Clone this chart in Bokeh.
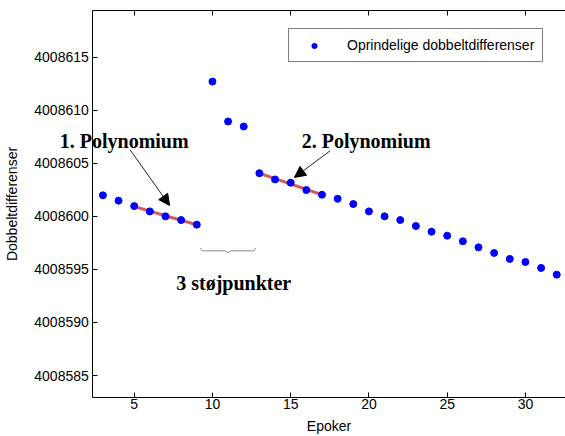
import numpy as np
from bokeh.plotting import figure
from bokeh.models import (Range1d, FixedTicker, LinearAxis, Label, Arrow, NormalHead,
                          Legend, LegendItem, BasicTickFormatter, ColumnDataSource)
from bokeh.embed import file_html
from bokeh.resources import INLINE

# Double differences per epoch
epochs = list(range(3, 33))
double_diffs = [
    4008601.98, 4008601.48, 4008600.97, 4008600.47, 4008600.00, 4008599.65, 4008599.22,
    4008612.70, 4008608.94, 4008608.47,
    4008604.07, 4008603.48, 4008603.17, 4008602.48, 4008602.04, 4008601.66, 4008601.16,
    4008600.47, 4008600.00, 4008599.65, 4008599.09, 4008598.56, 4008598.18, 4008597.65,
    4008597.08, 4008596.55, 4008595.99, 4008595.70, 4008595.14, 4008594.51,
]

# Epoch groups: two fitted segments and the noisy points between them
fit1_epochs = [5, 6, 7, 8, 9]
fit2_epochs = [13, 14, 15, 16, 17]
noise_epochs = [10, 11, 12]

x_ticks = [5, 10, 15, 20, 25, 30]
y_ticks = [4008585, 4008590, 4008595, 4008600, 4008605, 4008610, 4008615]

legend_label = "Oprindelige dobbeltdifferenser"
x_label = "Epoker"
y_label = "Dobbeltdifferenser"

SANS = "Liberation Sans"
SERIF = "Liberation Serif"

# Canvas size, axes box (canvas pixels) and the data limits of that box.
# The frame spans the whole canvas so annotations may reach outside the axes box;
# the axes are pinned to the box edges with fixed_location.
W, H = 565, 436
BOX_L, BOX_T, BOX_R, BOX_B = 92.3, 10.3, 565.0, 396.7
XLIM = (2.355, 32.56)
YLIM = (4008582.96, 4008619.37)

kx = (XLIM[1] - XLIM[0]) / (BOX_R - BOX_L)
ky = (YLIM[1] - YLIM[0]) / (BOX_B - BOX_T)
x_range = Range1d(XLIM[0] - BOX_L * kx, XLIM[1] + (W - BOX_R) * kx)
y_range = Range1d(YLIM[0] - (H - BOX_B) * ky, YLIM[1] + BOX_T * ky)

lookup = dict(zip(epochs, double_diffs))


def fitted_line(ep, deg=1):
    x = np.array(ep, dtype=float)
    y = np.array([lookup[e] for e in ep]) - 4008600.0
    coef = np.polyfit(x, y, deg)
    return x, np.polyval(coef, x) + 4008600.0


p = figure(width=W, height=H, x_range=x_range, y_range=y_range,
           output_backend="svg", toolbar_location=None,
           min_border=0, min_border_left=0, min_border_right=0,
           min_border_top=0, min_border_bottom=0,
           background_fill_color="white", border_fill_color="white",
           outline_line_color=None)
p.grid.visible = False


def style_axis(ax):
    ax.major_tick_in = 5
    ax.major_tick_out = 0
    ax.minor_tick_line_color = None
    ax.axis_line_color = "black"
    ax.major_tick_line_color = "black"
    ax.major_label_text_font = SANS
    ax.major_label_text_font_size = "14px"
    ax.major_label_text_color = "black"
    ax.axis_label_text_font = SANS
    ax.axis_label_text_font_size = "14px"
    ax.axis_label_text_font_style = "normal"
    ax.axis_label_text_color = "black"


xa, ya = p.xaxis[0], p.yaxis[0]
style_axis(xa)
style_axis(ya)

xa.ticker = FixedTicker(ticks=x_ticks)
xa.fixed_location = YLIM[0]
xa.bounds = XLIM
xa.axis_label = x_label
xa.major_label_standoff = 2
xa.axis_label_standoff = 5

ya.ticker = FixedTicker(ticks=y_ticks)
ya.formatter = BasicTickFormatter(use_scientific=False)
ya.fixed_location = XLIM[0]
ya.bounds = YLIM
ya.axis_label = y_label
ya.major_label_standoff = 4
ya.axis_label_standoff = 11

# top border with inward ticks and no labels
top = LinearAxis(ticker=FixedTicker(ticks=x_ticks),
                 major_label_overrides={t: "" for t in x_ticks},
                 major_label_standoff=0, major_tick_in=5, major_tick_out=0,
                 minor_tick_line_color=None, axis_line_color="black",
                 major_tick_line_color="black", fixed_location=YLIM[1], bounds=XLIM)
p.add_layout(top, "above")

# fitted polynomial segments
for ep in (fit1_epochs, fit2_epochs):
    fx, fy = fitted_line(ep)
    p.line(fx, fy, line_color="#d65a5a", line_width=3)

src = ColumnDataSource(dict(x=epochs, y=double_diffs))
dots = p.scatter("x", "y", source=src, size=7, marker="circle",
                 fill_color="#0000ff", line_color="#0000ff")

legend = Legend(items=[LegendItem(label=legend_label, renderers=[dots])],
                location=(288, 374), padding=8, margin=0, spacing=0,
                glyph_width=34, glyph_height=13, label_height=13, label_standoff=16,
                label_text_font=SANS, label_text_font_size="14px", label_text_color="black",
                border_line_color="black", border_line_width=1,
                background_fill_color="white", background_fill_alpha=1)
p.add_layout(legend)

# annotations
arrow_style = dict(line_color="#222222", line_width=1)
p.add_layout(Arrow(end=NormalHead(size=11, fill_color="black", line_color="black"),
                   x_start=4.74, y_start=4008606.27, x_end=7.26, y_end=4008601.03,
                   **arrow_style))
p.add_layout(Arrow(end=NormalHead(size=11, fill_color="black", line_color="black"),
                   x_start=17.52, y_start=4008606.18, x_end=15.24, y_end=4008603.67,
                   **arrow_style))

label_style = dict(text_font=SERIF, text_font_size="20px", text_font_style="bold",
                   text_color="black", text_align="center", text_baseline="alphabetic")
p.add_layout(Label(x=4.36, y=4008607.1, text="1. Polynomium", **label_style))
p.add_layout(Label(x=19.82, y=4008607.1, text="2. Polynomium", **label_style))
p.add_layout(Label(x=11.36, y=4008593.7, text="3 støjpunkter", **label_style))

# curly brace under the noisy epochs
bc = float(np.mean(noise_epochs))
half = 1.78
by = 4008596.75
hook = 0.28
tip = 0.17
bx = [bc - half, bc - half + 0.13, bc - 0.15, bc, bc + 0.15, bc + half - 0.13, bc + half]
byy = [by + hook, by, by, by - tip, by, by, by + hook]
p.line(bx, byy, line_color="#8c8c8c", line_width=1)

open("out.html", "w").write(file_html(p, INLINE))
